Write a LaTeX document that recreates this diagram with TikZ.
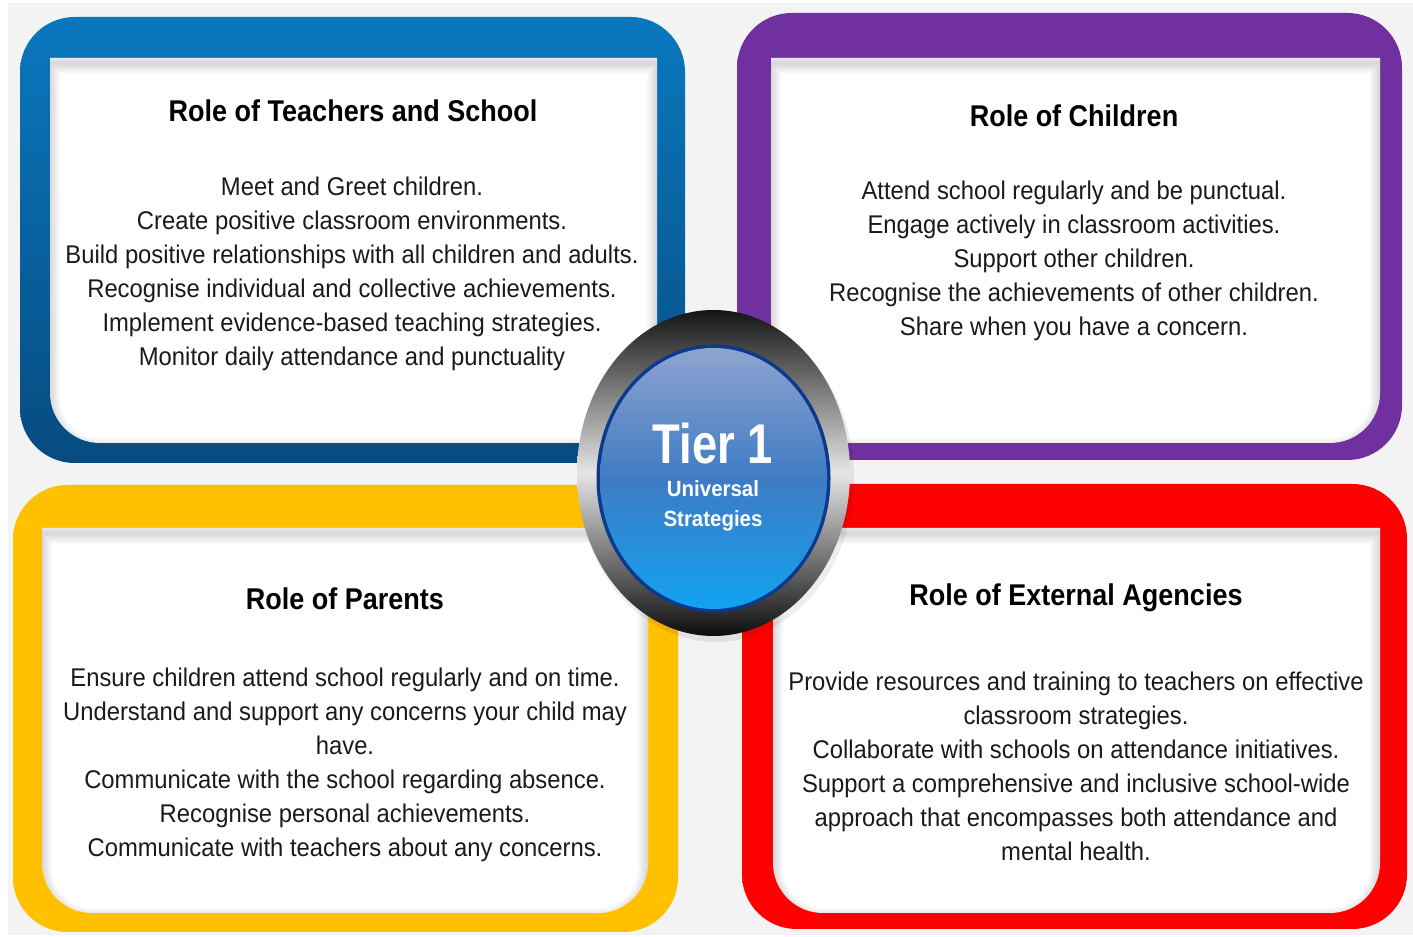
\documentclass[tikz,border=0pt]{standalone}
\usepackage{fontspec}
\setmainfont{Liberation Sans}[FakeStretch=0.93]
\newfontfamily\titlefont{Liberation Sans}[FakeStretch=0.90]
\newfontfamily\tierfont{Liberation Sans}[FakeStretch=0.81]
\definecolor{bgray}{HTML}{F3F3F3}
\definecolor{blueTop}{HTML}{0A78BE}
\definecolor{blueBot}{HTML}{064B80}
\definecolor{purp}{HTML}{7030A0}
\definecolor{yell}{HTML}{FFC000}
\definecolor{redd}{HTML}{FE0000}
\definecolor{txt}{HTML}{1A1A1A}
\definecolor{orbTop}{HTML}{8EA4D0}
\definecolor{orbMid}{HTML}{3F7BC4}
\definecolor{orbBot}{HTML}{12A2F2}
\definecolor{orbEdge}{HTML}{0B3A8C}
\newcommand\ipath[4]{(#1,#2) -- (#3,#2) -- (#3,{#4+50}) arc[start angle=0,end angle=-90,radius=37.5pt] -- ({#1+50},#4) arc[start angle=270,end angle=180,radius=37.5pt] -- cycle}
\newcommand\rolepanel[9]{%
  \shade[#1, rounded corners=41pt] (#2,#3) rectangle (#4,#5);
  \fill[white] \ipath{#6}{#7}{#8}{#9};
  \begin{scope}
    \clip \ipath{#6}{#7}{#8}{#9};
    \foreach \w in {0.8,1.6,...,16.8}
      \draw[line width=\w pt, black, opacity=0.009, yshift=-4pt] \ipath{#6}{#7}{#8}{#9};
  \end{scope}}
\begin{document}
\begin{tikzpicture}[x=0.75pt,y=0.75pt,
  titletext/.style={font=\titlefont\bfseries\fontsize{22.5}{27}\selectfont, text=black},
  bodytext/.style={font=\fontsize{19.2}{25.5}\selectfont, align=center, text=txt},
  tiertext/.style={font=\tierfont\bfseries\fontsize{42}{46}\selectfont, text=white},
  subtext/.style={font=\bfseries\fontsize{16.5}{22.5}\selectfont, align=center, text=white}]
\useasboundingbox (0,0) rectangle (1413,937);
\fill[white] (0,0) rectangle (1413,937);
\fill[bgray] (8,2) rectangle (1413,934);

% panels
\rolepanel{top color=blueTop, bottom color=blueBot}{20}{920}{685}{474}{50}{879}{657}{494}
\rolepanel{top color=purp, bottom color=purp}{737}{924}{1402}{477}{771}{879}{1380}{494}
\rolepanel{top color=yell, bottom color=yell}{13}{452}{678}{5}{42}{409}{648}{24}
\rolepanel{top color=redd, bottom color=redd}{742}{453}{1407}{8}{773}{409}{1380}{24}

% texts
\node[titletext] (t1) at (353,826) {Role of Teachers and School};
\node[bodytext] (b1) at (352,663) {Meet and Greet children.\\Create positive classroom environments.\\Build positive relationships with all children and adults.\\Recognise individual and collective achievements.\\Implement evidence-based teaching strategies.\\Monitor daily attendance and punctuality};

\node[titletext] (t2) at (1074,821) {Role of Children};
\node[bodytext] (b2) at (1074,676) {Attend school regularly and be punctual.\\Engage actively in classroom activities.\\Support other children.\\Recognise the achievements of other children.\\Share when you have a concern.};

\node[titletext] (t3) at (345,338) {Role of Parents};
\node[bodytext] (b3) at (345,172) {Ensure children attend school regularly and on time.\\Understand and support any concerns your child may\\have.\\Communicate with the school regarding absence.\\Recognise personal achievements.\\Communicate with teachers about any concerns.};

\node[titletext] (t4) at (1076,339) {Role of External Agencies};
\node[bodytext] (b4) at (1076,171) {Provide resources and training to teachers on effective\\classroom strategies.\\Collaborate with schools on attendance initiatives.\\Support a comprehensive and inclusive school-wide\\approach that encompasses both attendance and\\mental health.};

% centre orb
\fill[black, opacity=0.07] (716,459) ellipse [x radius=138*0.75pt, y radius=164*0.75pt];
\shade[top color=black!92, bottom color=black!95, middle color=white!90!black] (713.5,464) ellipse [x radius=136.5*0.75pt, y radius=163*0.75pt];
\fill[orbEdge] (713.5,458.5) ellipse [x radius=117*0.75pt, y radius=134*0.75pt];
\shade[top color=orbTop, bottom color=orbBot, middle color=orbMid] (713.5,458.5) ellipse [x radius=113.5*0.75pt, y radius=130.5*0.75pt];
\node[tiertext] (tier) at (713,494) {Tier 1};
\node[subtext] (sub) at (713,431) {Universal\\Strategies};
\end{tikzpicture}
\end{document}
